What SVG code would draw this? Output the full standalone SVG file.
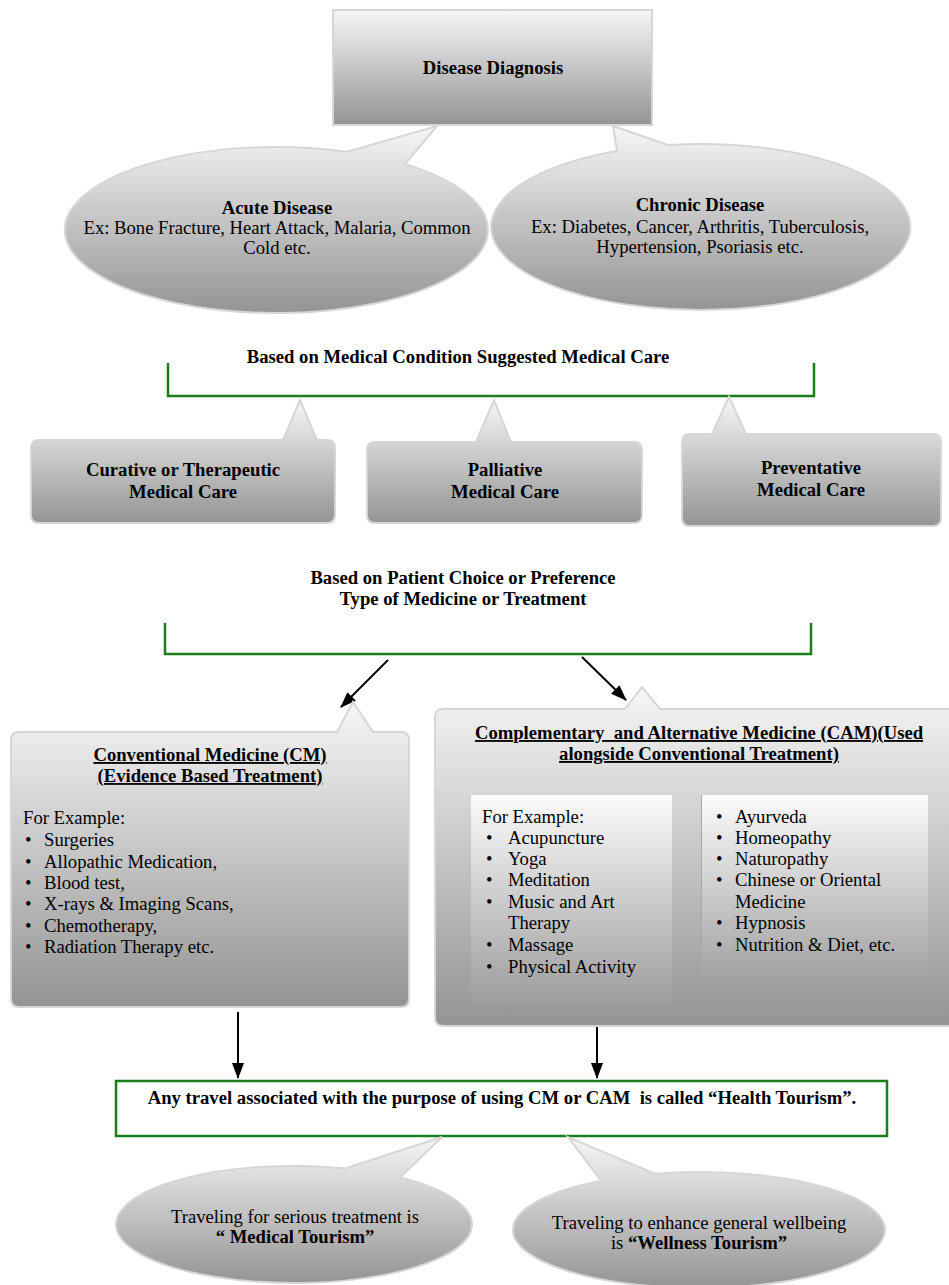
<svg xmlns="http://www.w3.org/2000/svg" width="949" height="1285" viewBox="0 0 949 1285">
<defs>
<linearGradient id="g" x1="0" y1="0" x2="0" y2="1">
<stop offset="0" stop-color="#f6f6f6"/>
<stop offset="1" stop-color="#949494"/>
</linearGradient>
<linearGradient id="gp" x1="0" y1="0" x2="0" y2="1">
<stop offset="0" stop-color="#fbfbfb"/>
<stop offset="1" stop-color="#9c9c9c"/>
</linearGradient>
<marker id="ah" markerWidth="16" markerHeight="12" refX="15" refY="6" orient="auto" markerUnits="userSpaceOnUse">
<path d="M0,0 L16,6 L0,12 Z" fill="#000"/>
</marker>
<style>
.t{font-family:"Liberation Serif","Times New Roman",serif;font-size:18.67px;fill:#000}
.b{font-weight:bold}
.c{text-anchor:middle}
.u{text-decoration:underline}
.pre{white-space:pre}
.shape{fill:url(#g);stroke:#d6d6d6;stroke-width:2}
.panel{fill:url(#gp);stroke:none}
.br{fill:none;stroke:#1a7f1a;stroke-width:2.5}
.ar{stroke:#000;stroke-width:2;fill:none;marker-end:url(#ah)}
</style>
</defs>
<rect width="949" height="1285" fill="#fff"/>

<g id="connectors">
<path class="br" d="M168,363 V396 H814 V363"/>
<path class="br" d="M165,623 V654 H811 V623"/>
<line class="ar" x1="388" y1="660" x2="341" y2="707"/>
<line class="ar" x1="582" y1="657" x2="626" y2="700"/>
<line class="ar" x1="238" y1="1012" x2="238" y2="1078"/>
<line class="ar" x1="597" y1="1027" x2="597" y2="1078"/>
</g>

<g id="disease-diagnosis">
<rect class="shape" x="333" y="10" width="319" height="115"/>
<text class="t b c" x="493" y="74">Disease Diagnosis</text>
</g>

<g id="acute-disease">
<path class="shape" d="M347,151.75 L437,126 L405,164.1 A211.5 83 0 1 1 347,151.75 Z"/>
<text class="t b c" x="277" y="214">Acute Disease</text>
<text class="t c" x="277" y="234">Ex: Bone Fracture, Heart Attack, Malaria, Common</text>
<text class="t c" x="277" y="254">Cold etc.</text>
</g>

<g id="chronic-disease">
<path class="shape" d="M617,150.9 L613,126 L668,145 A209.5 83 0 1 1 617,150.9 Z"/>
<text class="t b c" x="700" y="211">Chronic Disease</text>
<text class="t c" x="700" y="233">Ex: Diabetes, Cancer, Arthritis, Tuberculosis,</text>
<text class="t c" x="700" y="253">Hypertension, Psoriasis etc.</text>
</g>

<g id="label-medical-condition">
<text class="t b c" x="458" y="363">Based on Medical Condition Suggested Medical Care</text>
</g>

<g id="curative">
<path class="shape" d="M39,440 L283,440 L300,400 L317,440 L327,440 Q335,440 335,448 L335,515 Q335,523 327,523 L39,523 Q31,523 31,515 L31,448 Q31,440 39,440 Z"/>
<text class="t b c" x="183" y="476">Curative or Therapeutic</text>
<text class="t b c" x="183" y="498">Medical Care</text>
</g>

<g id="palliative">
<path class="shape" d="M375,442 L476,442 L494,400 L511,442 L634,442 Q642,442 642,450 L642,515 Q642,523 634,523 L375,523 Q367,523 367,515 L367,450 Q367,442 375,442 Z"/>
<text class="t b c" x="505" y="476">Palliative</text>
<text class="t b c" x="505" y="498">Medical Care</text>
</g>

<g id="preventative">
<path class="shape" d="M690,434 L712,434 L729,397 L746,434 L933,434 Q941,434 941,442 L941,518 Q941,526 933,526 L690,526 Q682,526 682,518 L682,442 Q682,434 690,434 Z"/>
<text class="t b c" x="811" y="474">Preventative</text>
<text class="t b c" x="811" y="496">Medical Care</text>
</g>

<g id="label-patient-choice">
<text class="t b c" x="463" y="584">Based on Patient Choice or Preference</text>
<text class="t b c" x="463" y="605">Type of Medicine or Treatment</text>
</g>

<g id="conventional-medicine">
<path class="shape" d="M19,732 L337,732 L353,702 L373,732 L401,732 Q409,732 409,740 L409,999 Q409,1007 401,1007 L19,1007 Q11,1007 11,999 L11,740 Q11,732 19,732 Z"/>
<text class="t b c u" x="210" y="761">Conventional Medicine (CM)</text>
<text class="t b c u" x="210" y="782">(Evidence Based Treatment)</text>
<text class="t" x="23" y="824">For Example:</text>
<text class="t" x="25" y="846">•</text><text class="t" x="44" y="846">Surgeries</text>
<text class="t" x="25" y="868">•</text><text class="t" x="44" y="868">Allopathic Medication,</text>
<text class="t" x="25" y="889">•</text><text class="t" x="44" y="889">Blood test,</text>
<text class="t" x="25" y="910">•</text><text class="t" x="44" y="910">X-rays &amp; Imaging Scans,</text>
<text class="t" x="25" y="932">•</text><text class="t" x="44" y="932">Chemotherapy,</text>
<text class="t" x="25" y="953">•</text><text class="t" x="44" y="953">Radiation Therapy etc.</text>
</g>

<g id="cam">
<path class="shape" d="M443,709 L625,709 L642,687 L660,709 L960,709 L960,1026 L443,1026 Q435,1026 435,1018 L435,717 Q435,709 443,709 Z"/>
<text class="t b c u pre" x="699" y="739">Complementary  and Alternative Medicine (CAM)(Used</text>
<text class="t b c u" x="699" y="760">alongside Conventional Treatment)</text>
<rect class="panel" x="471" y="795" width="201" height="210"/>
<rect class="panel" x="701" y="795" width="227" height="195"/>
<line x1="701.5" y1="795" x2="701.5" y2="990" stroke="#a8a8a8" stroke-width="1"/>
<text class="t" x="482" y="823">For Example:</text>
<text class="t" x="486" y="844">•</text><text class="t" x="508" y="844">Acupuncture</text>
<text class="t" x="486" y="865">•</text><text class="t" x="508" y="865">Yoga</text>
<text class="t" x="486" y="886">•</text><text class="t" x="508" y="886">Meditation</text>
<text class="t" x="486" y="908">•</text><text class="t" x="508" y="908">Music and Art</text>
<text class="t" x="508" y="929">Therapy</text>
<text class="t" x="486" y="951">•</text><text class="t" x="508" y="951">Massage</text>
<text class="t" x="486" y="973">•</text><text class="t" x="508" y="973">Physical Activity</text>
<text class="t" x="716" y="823">•</text><text class="t" x="735" y="823">Ayurveda</text>
<text class="t" x="716" y="844">•</text><text class="t" x="735" y="844">Homeopathy</text>
<text class="t" x="716" y="865">•</text><text class="t" x="735" y="865">Naturopathy</text>
<text class="t" x="716" y="886">•</text><text class="t" x="735" y="886">Chinese or Oriental</text>
<text class="t" x="735" y="908">Medicine</text>
<text class="t" x="716" y="929">•</text><text class="t" x="735" y="929">Hypnosis</text>
<text class="t" x="716" y="951">•</text><text class="t" x="735" y="951">Nutrition &amp; Diet, etc.</text>
</g>

<g id="health-tourism">
<rect x="116" y="1081" width="771" height="55" fill="#fff" stroke="#1a7f1a" stroke-width="2.5"/>
<text class="t b c pre" x="502" y="1104">Any travel associated with the purpose of using CM or CAM  is called “Health Tourism”.</text>
</g>

<g id="medical-tourism">
<path class="shape" d="M345,1168.45 L442,1137 L400,1177.5 A178 58.5 0 1 1 345,1168.45 Z"/>
<text class="t c" x="295" y="1223">Traveling for serious treatment is</text>
<text class="t b c pre" x="295" y="1243">“ Medical Tourism”</text>
</g>

<g id="wellness-tourism">
<path class="shape" d="M601,1180.7 L568,1137 L655,1173.65 A186 58 0 1 1 601,1180.7 Z"/>
<text class="t c" x="699" y="1229">Traveling to enhance general wellbeing</text>
<text class="t c" x="699" y="1249">is <tspan class="b">“Wellness Tourism”</tspan></text>
</g>
</svg>
